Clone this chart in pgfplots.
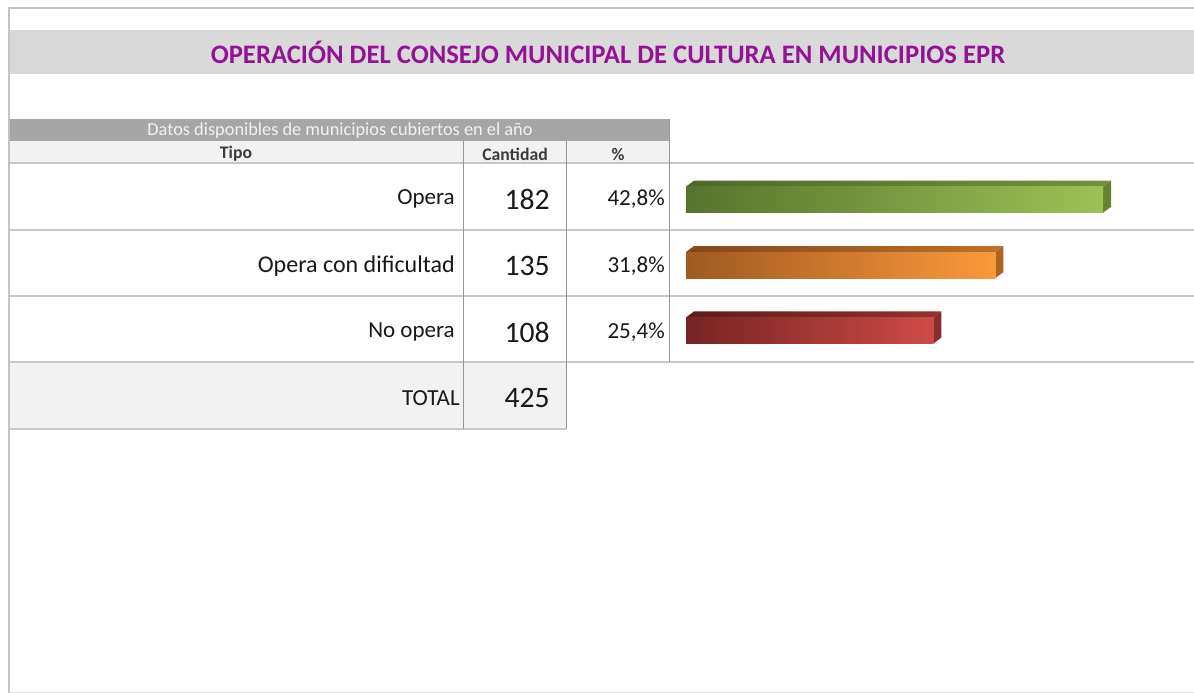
\documentclass[border=0pt]{standalone}
\usepackage{pgfplots}
\pgfplotsset{compat=1.18}
\usepackage{fontspec}
\setmainfont{Carlito}
\definecolor{band}{RGB}{217,217,217}
\definecolor{ttl}{RGB}{148,18,148}
\definecolor{frame}{RGB}{195,195,195}
\definecolor{hdr}{RGB}{166,166,166}
\definecolor{light}{RGB}{242,242,242}
\definecolor{sep}{RGB}{200,200,200}
\definecolor{vln}{RGB}{150,150,150}
\definecolor{txt}{RGB}{25,25,25}
% bar colours
\definecolor{gL}{RGB}{88,115,45}\definecolor{gR}{RGB}{158,193,85}
\definecolor{gTL}{RGB}{80,105,40}\definecolor{gTR}{RGB}{115,145,60}\definecolor{gS}{RGB}{100,130,48}
\definecolor{oL}{RGB}{160,90,32}\definecolor{oR}{RGB}{252,152,60}
\definecolor{oTL}{RGB}{130,72,25}\definecolor{oTR}{RGB}{195,112,42}\definecolor{oS}{RGB}{175,100,35}
\definecolor{rL}{RGB}{118,35,35}\definecolor{rR}{RGB}{205,75,70}
\definecolor{rTL}{RGB}{95,28,28}\definecolor{rTR}{RGB}{145,50,50}\definecolor{rS}{RGB}{140,45,45}
\begin{document}
\begin{tikzpicture}[x=0.6pt,y=-0.6pt]
\useasboundingbox (0,0) rectangle (1194,693);
% outer frame
\draw[frame,line width=1.2pt] (1194,8) -- (9,8) -- (9,693);
\draw[frame!60,line width=0.6pt] (9,692) -- (1194,692);
% title band
\fill[band] (10,30) rectangle (1194,74);
\node[text=ttl,font=\fontsize{16}{18}\selectfont\bfseries] at (608,52.5) {OPERACIÓN DEL CONSEJO MUNICIPAL DE CULTURA EN MUNICIPIOS EPR};
% table header
\fill[hdr] (10,119) rectangle (669,141);
\node[text=light,font=\fontsize{11}{12}\selectfont] at (340,131) {Datos disponibles de municipios cubiertos en el año};
\fill[light] (10,141) rectangle (669,163);
\node[text=txt!85,font=\fontsize{10.6}{12}\selectfont\bfseries] at (236,154) {Tipo};
\node[text=txt!85,font=\fontsize{10.6}{12}\selectfont\bfseries] at (515,154) {Cantidad};
\node[text=txt!85,font=\fontsize{10.6}{12}\selectfont\bfseries] at (618,154) {\%};
% total row
\fill[light] (10,362) rectangle (566,429);
% separators
\foreach \yy in {163,230,296,362} \draw[sep,line width=1.2pt] (10,\yy) -- (1194,\yy);
\draw[sep,line width=1.2pt] (10,429) -- (566,429);
\draw[vln,line width=0.6pt] (463,141) -- (463,429);
\draw[vln,line width=0.6pt] (566,141) -- (566,429);
\draw[vln,line width=0.6pt] (669,119) -- (669,362);
% texts
\begin{scope}[every node/.style={text=txt,inner sep=0pt}]
\node[anchor=east,font=\fontsize{13.8}{16}\selectfont] at (455,199) {Opera};
\node[anchor=east,font=\fontsize{14.4}{16}\selectfont] at (455,266) {Opera con dificultad};
\node[anchor=east,font=\fontsize{13.8}{16}\selectfont] at (455,332) {No opera};
\node[anchor=east,font=\fontsize{13.8}{16}\selectfont] at (460,398) {TOTAL};
\node[anchor=east,font=\fontsize{17.8}{20}\selectfont] at (550,199) {182};
\node[anchor=east,font=\fontsize{17.8}{20}\selectfont] at (550,266) {135};
\node[anchor=east,font=\fontsize{17.8}{20}\selectfont] at (550,332) {108};
\node[anchor=east,font=\fontsize{17.8}{20}\selectfont] at (550,398) {425};
\node[anchor=east,font=\fontsize{13.8}{16}\selectfont] at (665,199) {42,8\%};
\node[anchor=east,font=\fontsize{13.8}{16}\selectfont] at (665,266) {31,8\%};
\node[anchor=east,font=\fontsize{13.8}{16}\selectfont] at (665,332) {25,4\%};
\end{scope}
% bars
\coordinate (O) at (686,330.5);
\begin{axis}[at={(O)},anchor=origin,x=1.3747pt,y=39.24pt,
  xmin=0,xmax=200,ymin=-0.5,ymax=2.5,hide axis,clip=false]
% Opera 182 (y=2)
\addplot[draw=none,left color=gTL,right color=gTR] coordinates {(0,2.2) (182,2.2) (185.5,2.292) (3.5,2.292) (0,2.2)};
\addplot[draw=none,fill=gS] coordinates {(182,1.8) (182,2.2) (185.5,2.292) (185.5,1.892) (182,1.8)};
\addplot[xbar,bar width=0.4,bar shift=0pt,draw=none,left color=gL,right color=gR] coordinates {(182,2)};
% Opera con dificultad 135 (y=1)
\addplot[draw=none,left color=oTL,right color=oTR] coordinates {(0,1.2) (135,1.2) (138.5,1.292) (3.5,1.292) (0,1.2)};
\addplot[draw=none,fill=oS] coordinates {(135,0.8) (135,1.2) (138.5,1.292) (138.5,0.892) (135,0.8)};
\addplot[xbar,bar width=0.4,bar shift=0pt,draw=none,left color=oL,right color=oR] coordinates {(135,1)};
% No opera 108 (y=0)
\addplot[draw=none,left color=rTL,right color=rTR] coordinates {(0,0.2) (108,0.2) (111.5,0.292) (3.5,0.292) (0,0.2)};
\addplot[draw=none,fill=rS] coordinates {(108,-0.2) (108,0.2) (111.5,0.292) (111.5,-0.108) (108,-0.2)};
\addplot[xbar,bar width=0.4,bar shift=0pt,draw=none,left color=rL,right color=rR] coordinates {(108,0)};
\end{axis}
\end{tikzpicture}
\end{document}
